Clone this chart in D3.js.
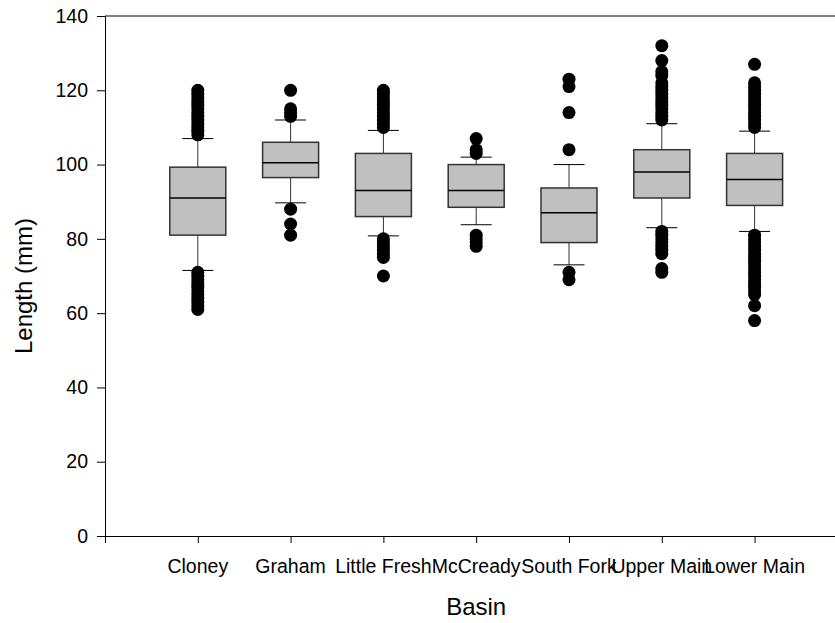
<!DOCTYPE html>
<html>
<head>
<meta charset="utf-8">
<script src="https://cdn.jsdelivr.net/npm/d3@7"></script>
<style>
  html, body { margin: 0; padding: 0; background: #fff; }
  svg text { font-family: "Liberation Sans", Arial, sans-serif; fill: #000; }
</style>
</head>
<body>
<svg id="chart" width="835" height="623"></svg>
<script>
// ---- data ----
const categories = ["Cloney", "Graham", "Little Fresh", "McCready", "South Fork", "Upper Main", "Lower Main"];
const q1       = [81.0, 96.5, 86.0, 88.5, 79.0, 91.0, 89.0];
const medians  = [91.0, 100.5, 93.0, 93.0, 87.0, 98.0, 96.0];
const q3       = [99.3, 106.0, 103.0, 100.0, 93.7, 104.0, 103.0];
const whiskLow = [71.5, 89.7, 80.8, 83.8, 73.0, 83.0, 82.0];
const whiskHigh= [107.0, 112.0, 109.2, 102.0, 100.0, 111.0, 109.0];
const outliersCloney = [108,109,110,111,112,113,114,115,116,117,118,119,120, 61,62,63,64,65,66,67,68,69,70,71];
const outliersGraham = [113,114,115,120, 88,84,81];
const outliersLittleFresh = [110,111,112,113,114,115,116,117,118,119,120, 80,79,78,77,76,75,70];
const outliersMcCready = [103,104,107, 81,80,79,78];
const outliersSouthFork = [104,114,121,123, 71,69];
const outliersUpperMain = [112,113,114,115,116,117,118,119,120,121,122,124,125,128,132, 82,81,80,79,78,77,76,72,71];
const outliersLowerMain = [110,111,112,113,114,115,116,117,118,119,120,121,122,127,
  81,80,79,78,77,76,75,74,73,72,71,70,69,68,67,66,65,62,58];
const outliers = [outliersCloney, outliersGraham, outliersLittleFresh, outliersMcCready,
  outliersSouthFork, outliersUpperMain, outliersLowerMain];
const yTicks = [0, 20, 40, 60, 80, 100, 120, 140];
const xLabel = "Basin";
const yLabel = "Length (mm)";

// ---- layout ----
const svg = d3.select("#chart");
const mLeft = 105, mTop = 16, mBottom = 536, step = 92.8;
const x = d3.scaleLinear().domain([0, categories.length + 1]).range([mLeft, mLeft + step * (categories.length + 1)]);
const y = d3.scaleLinear().domain([0, 140]).range([mBottom, mTop]);
const boxW = 56, capW = 31, r = 6.5;

// frame top line
svg.append("line").attr("x1", mLeft).attr("x2", 835).attr("y1", mTop).attr("y2", mTop)
  .attr("stroke", "#000").attr("stroke-width", 1);

// y axis
const yAxis = svg.append("g").attr("transform", `translate(${mLeft},0)`)
  .call(d3.axisLeft(y).tickValues(yTicks).tickSize(8).tickPadding(9).tickFormat(d3.format("d")));
yAxis.select(".domain").attr("stroke", "#000");
yAxis.selectAll("text").attr("font-size", 19.5);

// x axis
const xAxis = svg.append("g").attr("transform", `translate(0,${mBottom})`)
  .call(d3.axisBottom(x).tickValues(d3.range(0, categories.length + 2)).tickSize(7).tickSizeOuter(0).tickFormat(""));
xAxis.select(".domain").attr("stroke", "#000");

// category labels
svg.append("g").selectAll("text").data(categories).join("text")
  .attr("x", (d, i) => x(i + 1)).attr("y", 573)
  .attr("text-anchor", "middle").attr("font-size", 19.5).text(d => d);

// boxes
const g = svg.append("g");
categories.forEach((c, i) => {
  const cx = x(i + 1);
  g.append("line").attr("x1", cx).attr("x2", cx).attr("y1", y(q3[i])).attr("y2", y(whiskHigh[i])).attr("stroke", "#333");
  g.append("line").attr("x1", cx).attr("x2", cx).attr("y1", y(q1[i])).attr("y2", y(whiskLow[i])).attr("stroke", "#333");
  g.append("line").attr("x1", cx - capW / 2).attr("x2", cx + capW / 2).attr("y1", y(whiskHigh[i])).attr("y2", y(whiskHigh[i])).attr("stroke", "#000");
  g.append("line").attr("x1", cx - capW / 2).attr("x2", cx + capW / 2).attr("y1", y(whiskLow[i])).attr("y2", y(whiskLow[i])).attr("stroke", "#000");
  g.append("rect").attr("x", cx - boxW / 2).attr("width", boxW)
    .attr("y", y(q3[i])).attr("height", y(q1[i]) - y(q3[i]))
    .attr("fill", "#c0c0c0").attr("stroke", "#333").attr("stroke-width", 1.5);
  g.append("line").attr("x1", cx - boxW / 2).attr("x2", cx + boxW / 2).attr("y1", y(medians[i])).attr("y2", y(medians[i])).attr("stroke", "#000").attr("stroke-width", 1.5);
  g.selectAll(null).data(outliers[i]).join("circle")
    .attr("cx", cx).attr("cy", d => y(d)).attr("r", r).attr("fill", "#000");
});

// axis titles
svg.append("text").attr("x", x((categories.length + 1) / 2)).attr("y", 615)
  .attr("text-anchor", "middle").attr("font-size", 24).text(xLabel);
svg.append("text").attr("transform", `translate(32,286) rotate(-90)`)
  .attr("text-anchor", "middle").attr("font-size", 24).text(yLabel);
</script>
</body>
</html>
